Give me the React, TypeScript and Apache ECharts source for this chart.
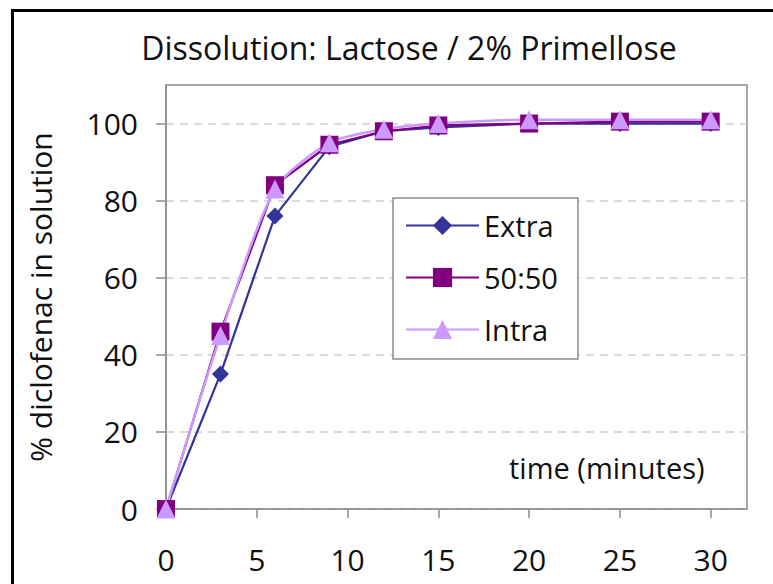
import React, { useEffect, useRef } from "react";
import * as echarts from "echarts";

const times = [0, 3, 6, 9, 12, 15, 20, 25, 30];
const extra = [0, 35, 76, 94, 98, 99, 100, 100, 100];
const fifty = [0, 46, 84, 94.5, 98, 99.5, 100, 100.5, 100.5];
const intra = [0, 45, 83, 95, 98.5, 100, 101, 101, 101];
const xTicks = [0, 5, 10, 15, 20, 25, 30];
const yTicks = [0, 20, 40, 60, 80, 100];

const FONT = "Open Sans";

export default function App() {
  const ref = useRef<HTMLDivElement>(null);
  useEffect(() => {
    const chart = echarts.init(ref.current!, undefined, { renderer: "svg" });
    const pts = (arr: number[]) => times.map((t, i) => [t, arr[i]]);
    chart.setOption({
      animation: false,
      backgroundColor: "#fff",
      title: {
        text: "Dissolution: Lactose / 2% Primellose",
        left: 404,
        textAlign: "center",
        top: 26,
        textStyle: { fontFamily: FONT, fontSize: 32, fontWeight: "normal", color: "#111" },
      },
      grid: {
        left: 166,
        top: 85,
        right: 26,
        bottom: 75,
        show: true,
        borderColor: "#8c8c8c",
        borderWidth: 1.5,
        backgroundColor: "transparent",
      },
      xAxis: {
        type: "value",
        min: 0,
        max: 32,
        interval: 5,
        axisLine: { show: true, onZero: false, lineStyle: { color: "#8c8c8c", width: 1.5 } },
        axisTick: { show: true, length: 9, customValues: xTicks, lineStyle: { color: "#8c8c8c", width: 1.5 } },
        axisLabel: {
          customValues: xTicks,
          margin: 35,
          fontFamily: FONT,
          fontSize: 30,
          color: "#111",
        },
        splitLine: { show: false },
      },
      yAxis: {
        type: "value",
        min: 0,
        max: 110,
        interval: 20,
        name: "% diclofenac in solution",
        nameLocation: "middle",
        nameGap: 111,
        nameTextStyle: { fontFamily: FONT, fontSize: 30, color: "#111" },
        axisLine: { show: true, lineStyle: { color: "#8c8c8c", width: 1.5 } },
        axisTick: { show: true, length: 10, customValues: yTicks, lineStyle: { color: "#8c8c8c", width: 1.5 } },
        axisLabel: {
          customValues: yTicks,
          margin: 28,
          fontFamily: FONT,
          fontSize: 30,
          color: "#111",
        },
        splitLine: { show: true, lineStyle: { color: "#cfcfcf", type: [8, 6], width: 1.5 } },
      },
      legend: {
        orient: "vertical",
        left: 393,
        top: 198,
        padding: [13, 20, 15, 12],
        itemGap: 23,
        itemWidth: 73,
        itemHeight: 24,
        borderColor: "#8c8c8c",
        borderWidth: 1.5,
        backgroundColor: "#fff",
        textStyle: { fontFamily: FONT, fontSize: 29, color: "#111" },
        data: ["Extra", "50:50", "Intra"],
      },
      graphic: [
        {
          type: "rect",
          shape: { x: 12.5, y: 10.5, width: 820, height: 620 },
          style: { fill: "none", stroke: "#000", lineWidth: 3 },
          silent: true,
        },
        {
          type: "text",
          left: 509,
          top: 453,
          style: { text: "time (minutes)", font: `29px "${FONT}"`, fill: "#111" },
        },
      ],
      series: [
        {
          name: "Extra",
          type: "line",
          data: pts(extra),
          symbol: "diamond",
          symbolSize: 17,
          color: "#333399",
          lineStyle: { width: 2.2, color: "#333399" },
          itemStyle: { color: "#333399" },
        },
        {
          name: "50:50",
          type: "line",
          data: pts(fifty),
          symbol: "rect",
          symbolSize: 18,
          color: "#800080",
          lineStyle: { width: 2.2, color: "#800080" },
          itemStyle: { color: "#800080" },
        },
        {
          name: "Intra",
          type: "line",
          data: pts(intra),
          symbol: "triangle",
          symbolSize: 19,
          smooth: 0.25,
          color: "#cc99ff",
          lineStyle: { width: 2.5, color: "#cc99ff" },
          itemStyle: { color: "#cc99ff" },
        },
      ],
    });
    return () => chart.dispose();
  }, []);
  return (
    <div
      ref={ref}
      style={{ position: "fixed", left: 0, top: 0, width: 773, height: 584 }}
    />
  );
}
